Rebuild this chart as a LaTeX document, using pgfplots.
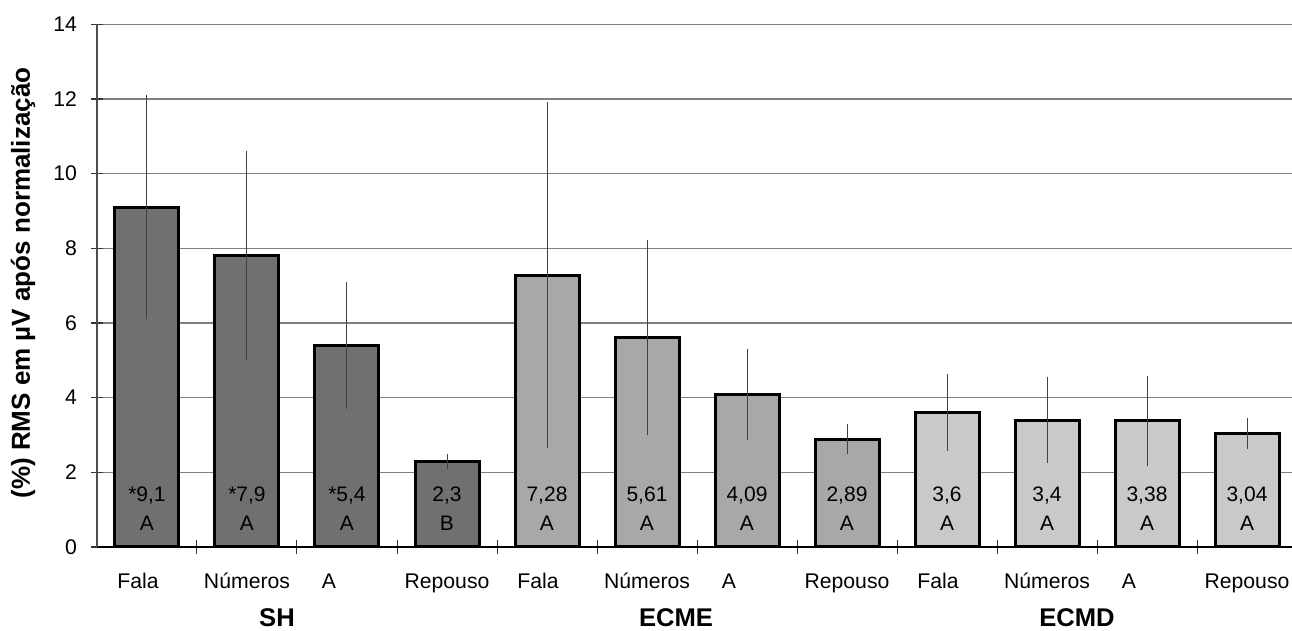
\documentclass[border=0pt]{standalone}
\usepackage{pgfplots}
\pgfplotsset{compat=1.18}
\usepackage{pgfplotstable}
\usepackage{fontspec}
\setmainfont{Liberation Sans}

\definecolor{shgray}{gray}{0.44}
\definecolor{ecmegray}{gray}{0.66}
\definecolor{ecmdgray}{gray}{0.79}
\definecolor{gridgray}{gray}{0.5}

% x y (mean) err (sd) num/let (labels in bars)
\pgfplotstableread{
x  y     err   num   let
1  9.1   3.0   *9,1  A
2  7.8   2.8   *7,9  A
3  5.4   1.7   *5,4  A
4  2.3   0.2   2,3   B
5  7.28  4.64  7,28  A
6  5.61  2.62  5,61  A
7  4.09  1.22  4,09  A
8  2.89  0.40  2,89  A
9  3.6   1.03  3,6   A
10 3.4   1.15  3,4   A
11 3.38  1.2   3,38  A
12 3.04  0.42  3,04  A
}\rmsdata

\newcommand{\padr}[1]{\hbox to #1{}}

\begin{document}
\begin{tikzpicture}
\begin{axis}[
  scale only axis,
  width=600pt, height=261.35pt,
  xmin=0.5, xmax=12.5, ymin=0, ymax=14,
  ytick={0,2,...,14},
  ymajorgrids,
  grid style={gridgray, line width=0.6pt},
  axis x line*=bottom, axis y line*=left,
  axis line style={-},
  x axis line style={black, line width=1.2pt},
  y axis line style={black!70, line width=1pt},
  tick align=center,
  major tick length=6pt,
  minor tick length=7pt,
  major x tick style={draw=none},
  minor x tick style={black!80, line width=0.5pt},
  major y tick style={black!80, line width=0.6pt},
  xtick={1,...,12},
  minor xtick={1.5,2.5,...,11.5},
  xticklabels={Fala\padr{9pt}, Números, A\padr{18pt}, Repouso,
               Fala\padr{9pt}, Números, A\padr{18pt}, Repouso,
               Fala\padr{9pt}, Números, A\padr{18pt}, Repouso},
  extra x ticks={2.3,6.29,10.3},
  extra x tick labels={SH,ECME,ECMD},
  extra x tick style={major tick length=0pt,
    xticklabel style={font=\bfseries\fontsize{12.8}{14}\selectfont, yshift=-22.25pt}},
  /pgf/number format/assume math mode=true,
  tick label style={font=\fontsize{10.6}{12}\selectfont},
  xticklabel style={anchor=base, yshift=-17.75pt},
  yticklabel style={xshift=-3.5pt},
  every axis y label/.style={at={(axis description cs:-0.0617,0.505)},
    rotate=90, anchor=center, font=\bfseries\fontsize{13}{15}\selectfont},
  ylabel={(\%) RMS em µV após normalização},
]
\addplot[ybar, bar width=0.64, bar shift=0pt, fill=shgray, draw=black, line width=1.5pt,
  restrict x to domain=1:4,
  error bars/.cd, y dir=both, y explicit, error mark=none,
  error bar style={line width=0.5pt, black!75}]
  table[x=x, y=y, y error=err] {\rmsdata};
\addplot[ybar, bar width=0.64, bar shift=0pt, fill=ecmegray, draw=black, line width=1.5pt,
  restrict x to domain=5:8,
  error bars/.cd, y dir=both, y explicit, error mark=none,
  error bar style={line width=0.5pt, black!75}]
  table[x=x, y=y, y error=err] {\rmsdata};
\addplot[ybar, bar width=0.64, bar shift=0pt, fill=ecmdgray, draw=black, line width=1.5pt,
  restrict x to domain=9:12,
  error bars/.cd, y dir=both, y explicit, error mark=none,
  error bar style={line width=0.5pt, black!75}]
  table[x=x, y=y, y error=err] {\rmsdata};
% labels inside the bars
\addplot[draw=none, mark=none, point meta=explicit symbolic, nodes near coords,
  nodes near coords style={anchor=center, yshift=25.8pt, font=\fontsize{10.5}{12}\selectfont}]
  table[x=x, y expr=0, meta=num] {\rmsdata};
\addplot[draw=none, mark=none, point meta=explicit symbolic, nodes near coords,
  nodes near coords style={anchor=center, yshift=12.1pt, font=\fontsize{10.5}{12}\selectfont}]
  table[x=x, y expr=0, meta=let] {\rmsdata};
\end{axis}
\pgfresetboundingbox
\path[use as bounding box] ([shift={(-48.5pt,-42pt)}]current axis.south west)
  rectangle ([shift={(-2.5pt,12.15pt)}]current axis.north east);
\end{tikzpicture}
\end{document}
